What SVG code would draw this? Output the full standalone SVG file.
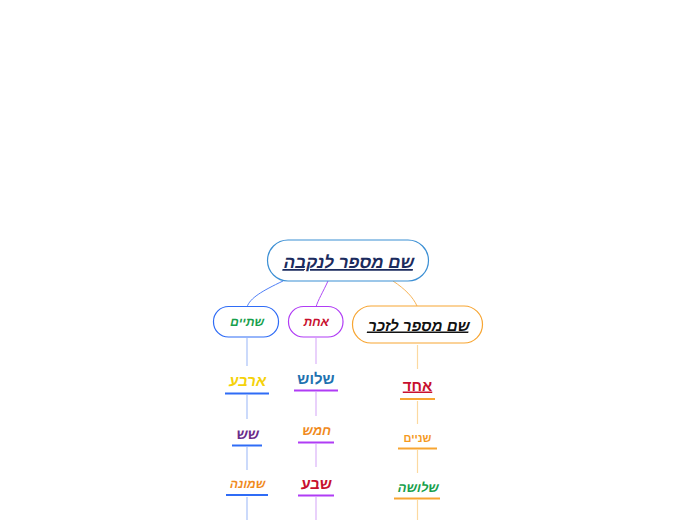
<svg xmlns="http://www.w3.org/2000/svg" width="696" height="520" viewBox="0 0 696 520">
<style>
.t{font-family:"Liberation Sans","DejaVu Sans",sans-serif;font-weight:bold;text-anchor:middle}
.u{text-decoration:underline}
.node{fill:#fff;stroke-width:1.2}
.vb{stroke:#a9c1f9;stroke-width:1.2;fill:none}
.vp{stroke:#dbb3f9;stroke-width:1.2;fill:none}
.vo{stroke:#fcd9a0;stroke-width:1.2;fill:none}
.bb{stroke:#2f6cf6;stroke-width:2}
.bp{stroke:#b03cf5;stroke-width:2}
.bo{stroke:#f7a532;stroke-width:2}
</style>
<rect width="696" height="520" fill="#fff"/>
<g id="connectors">
<path d="M283,281 C262,291 250,298 247,307" fill="none" stroke="#4f7ff7" stroke-width="1"/>
<path d="M328,281 C323,292 318,300 316,307" fill="none" stroke="#b04cf5" stroke-width="1"/>
<path d="M393,281 C405,289 413,297 417,306" fill="none" stroke="#f7b55a" stroke-width="1"/>
<line class="vb" x1="247" y1="338" x2="247" y2="366"/>
<line class="vb" x1="247" y1="395" x2="247" y2="419"/>
<line class="vb" x1="247" y1="447" x2="247" y2="470"/>
<line class="vb" x1="247" y1="497" x2="247" y2="520"/>
<line class="vp" x1="316" y1="338" x2="316" y2="364"/>
<line class="vp" x1="316" y1="392" x2="316" y2="416"/>
<line class="vp" x1="316" y1="444" x2="316" y2="467"/>
<line class="vp" x1="316" y1="497" x2="316" y2="520"/>
<line class="vo" x1="417.5" y1="345" x2="417.5" y2="369"/>
<line class="vo" x1="417.5" y1="401" x2="417.5" y2="424"/>
<line class="vo" x1="417.5" y1="450" x2="417.5" y2="473"/>
<line class="vo" x1="417.5" y1="500" x2="417.5" y2="520"/>
</g>
<g id="root">
<rect class="node" x="267.5" y="240" width="161" height="41" rx="20.5" stroke="#3b8fd4"/>
<text class="t u" transform="translate(348,268) skewX(-12)" font-size="17" fill="#1b2b5e">שם מספר לנקבה</text>
</g>
<g id="male">
<rect class="node" x="352.5" y="306" width="130" height="37" rx="18.5" stroke="#f7a532"/>
<text class="t u" transform="translate(418,330.5) skewX(-12)" font-size="15" fill="#111">שם מספר לזכר</text>
</g>
<g id="shtayim">
<rect class="node" x="213.5" y="306.5" width="65" height="30.5" rx="15" stroke="#2f6cf6"/>
<text class="t" transform="translate(246.5,326) skewX(-12)" font-size="12" fill="#17a04c">שתיים</text>
</g>
<g id="achat">
<rect class="node" x="288.5" y="306.5" width="54.5" height="30.5" rx="15" stroke="#b03cf5"/>
<text class="t" transform="translate(315.5,326) skewX(-12)" font-size="12" fill="#c8102e">אחת</text>
</g>
<g id="arba">
<text class="t" transform="translate(247,385.5) skewX(-10)" font-size="15" fill="#f5d20a">ארבע</text>
<line class="bb" x1="225" y1="393.5" x2="269" y2="393.5"/>
</g>
<g id="shesh">
<text class="t" transform="translate(247,438.5) skewX(-10)" font-size="14" fill="#6a2c8a">שש</text>
<line class="bb" x1="232" y1="445.5" x2="262" y2="445.5"/>
</g>
<g id="shmone">
<text class="t" transform="translate(247,487.5) skewX(-12)" font-size="12" fill="#f08a1c">שמונה</text>
<line class="bb" x1="226" y1="495" x2="268" y2="495"/>
</g>
<g id="shalosh">
<text class="t" x="316" y="383.5" font-size="15" fill="#1f72b0">שלוש</text>
<line class="bp" x1="294" y1="390.5" x2="338" y2="390.5"/>
</g>
<g id="chamesh">
<text class="t" transform="translate(316,434.5) skewX(-12)" font-size="13" fill="#f08a1c">חמש</text>
<line class="bp" x1="298" y1="442.5" x2="334" y2="442.5"/>
</g>
<g id="sheva">
<text class="t" transform="translate(316,488.5) skewX(-6)" font-size="15" fill="#c8102e">שבע</text>
<line class="bp" x1="298" y1="495.5" x2="334" y2="495.5"/>
</g>
<g id="echad">
<text class="t u" x="417.5" y="390.5" font-size="15" fill="#c8102e">אחד</text>
<line class="bo" x1="400" y1="399" x2="435" y2="399"/>
</g>
<g id="shnayim">
<text class="t" x="417.5" y="441.5" font-size="11" fill="#f59a1e">שניים</text>
<line class="bo" x1="398" y1="448.5" x2="437" y2="448.5"/>
</g>
<g id="shlosha">
<text class="t" transform="translate(417.5,491.5) skewX(-12)" font-size="13" fill="#17a04c">שלושה</text>
<line class="bo" x1="394" y1="498.5" x2="440" y2="498.5"/>
</g>
</svg>
